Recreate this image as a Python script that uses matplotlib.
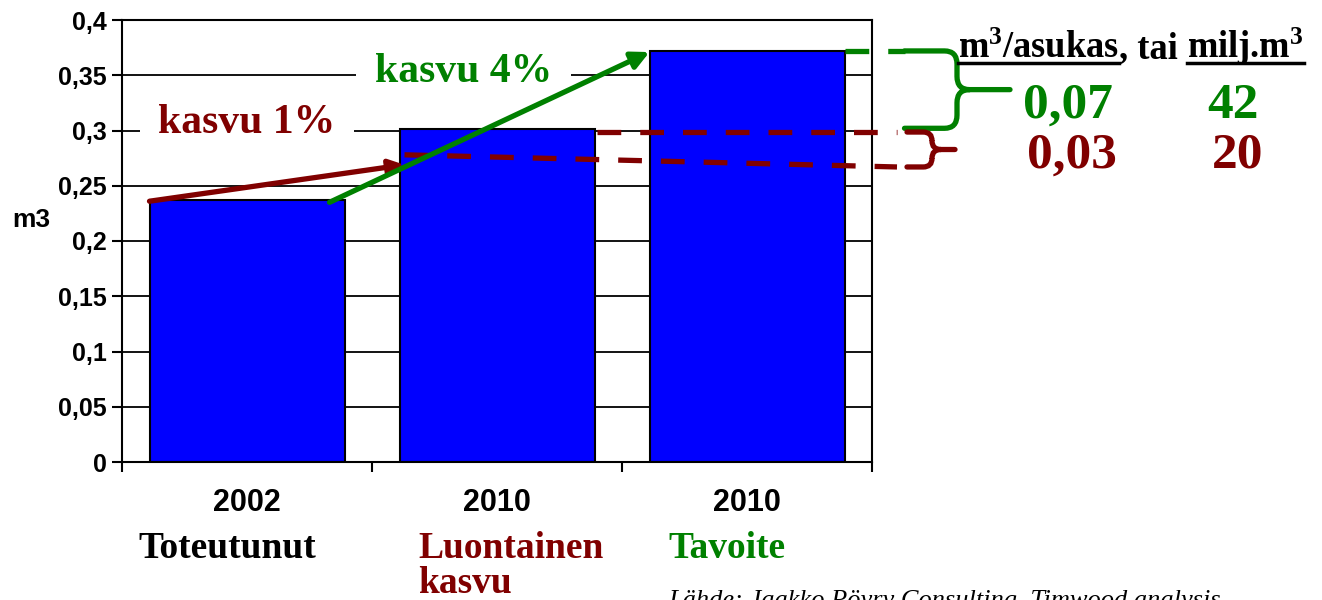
import numpy as np
import matplotlib
matplotlib.use('Agg')
import matplotlib.pyplot as plt
from matplotlib.path import Path
from matplotlib.patches import PathPatch
from matplotlib.lines import Line2D

plt.rcParams['mathtext.fontset'] = 'custom'
plt.rcParams['mathtext.rm'] = 'Liberation Serif:bold'
plt.rcParams['mathtext.bf'] = 'Liberation Serif:bold'
plt.rcParams['mathtext.it'] = 'Liberation Serif:italic:bold'

# data
years = ['2002', '2010', '2010']
subtitles = ['Toteutunut', 'Luontainen\nkasvu', 'Tavoite']
subtitle_colors = ['black', '#800000', '#008000']
values = [0.237, 0.301, 0.372]
yticks = [0, 0.05, 0.1, 0.15, 0.2, 0.25, 0.3, 0.35, 0.4]
ytick_labels = ['0', '0,05', '0,1', '0,15', '0,2', '0,25', '0,3', '0,35', '0,4']

# growth arrows (start, end) and reference levels
arrow_1pct = [(-0.39, 0.236), (0.63, 0.269)]
arrow_4pct = [(0.33, 0.235), (1.61, 0.371)]
level_natural = [(0.63, 0.278), (2.60, 0.267)]
level_natural_top = [(1.40, 0.2986), (2.60, 0.2986)]
level_target = [(2.39, 0.372), (2.63, 0.372)]

per_capita = ['0,07', '0,03']
million_m3 = ['42', '20']

DRED = '#800000'
GREEN = '#008000'

fig = plt.figure(figsize=(13.22, 6.0), dpi=100)
ax = fig.add_axes([122 / 1322, 1 - 462 / 600, 750 / 1322, 442 / 600])

x = np.arange(len(values))
ax.bar(x, values, width=0.78, color='#0000FF', edgecolor='black', linewidth=1.5, zorder=2)
ax.set_xlim(-0.5, 2.5)
ax.set_ylim(0, 0.4)
ax.set_axisbelow(True)
ax.yaxis.grid(True, color='black', linewidth=1.3)
for s in ax.spines.values():
    s.set_linewidth(1.5)

ax.set_yticks(yticks)
ax.set_yticklabels(ytick_labels, fontfamily='Liberation Sans', fontweight='bold', fontsize=18)
ax.tick_params(axis='y', length=7, width=1.5, pad=4)
ax.set_xticks(x)
ax.set_xticklabels(years, fontfamily='Liberation Sans', fontweight='bold', fontsize=22)
ax.set_xticks([-0.5, 0.5, 1.5, 2.5], minor=True)
ax.tick_params(axis='x', which='major', length=0, pad=19)
ax.tick_params(axis='x', which='minor', length=7, width=1.5)

sub_x = [-0.436, 0.684, 1.684]
for i, t in enumerate(subtitles):
    ax.text(sub_x[i], -0.155, t, transform=ax.get_xaxis_transform(), ha='left', va='top',
            fontfamily='Liberation Serif', fontweight='bold', fontsize=27,
            color=subtitle_colors[i], linespacing=1.02)

fig.text(12 / 1322, 1 - 220 / 600, 'm3', ha='left', va='center',
         fontfamily='Liberation Sans', fontweight='bold', fontsize=19)

# growth labels with white background hiding the grid
ax.text(0.0, 0.2977, 'kasvu 1%', ha='center', va='baseline', color=DRED,
        fontfamily='Liberation Serif', fontweight='bold', fontsize=30, zorder=3,
        bbox=dict(boxstyle='square,pad=0.45', facecolor='white', edgecolor='none'))
ax.text(0.866, 0.344, 'kasvu 4%', ha='center', va='baseline', color=GREEN,
        fontfamily='Liberation Serif', fontweight='bold', fontsize=30, zorder=3,
        bbox=dict(boxstyle='square,pad=0.45', facecolor='white', edgecolor='none'))

ax.annotate('', xy=arrow_1pct[1], xytext=arrow_1pct[0], zorder=5,
            arrowprops=dict(arrowstyle='-|>', color=DRED, lw=3.8, mutation_scale=22,
                            shrinkA=0, shrinkB=0))
ax.annotate('', xy=arrow_4pct[1], xytext=arrow_4pct[0], zorder=5,
            arrowprops=dict(arrowstyle='-|>', color=GREEN, lw=3.8, mutation_scale=26,
                            shrinkA=0, shrinkB=0))

for seg, col in [(level_natural, DRED), (level_natural_top, DRED), (level_target, GREEN)]:
    ax.plot([seg[0][0], seg[1][0]], [seg[0][1], seg[1][1]], color=col, lw=3.8,
            dashes=(4.5, 3.6), zorder=4, clip_on=False, solid_capstyle='butt',
            dash_capstyle='butt')


def brace(x0, xb, xtip, ytop, ybot, rx, ry, color):
    ymid = (ytop + ybot) / 2
    verts = [(x0, ytop), (xb - rx, ytop), (xb, ytop), (xb, ytop - ry),
             (xb, ymid + ry), (xb, ymid), (xb + rx, ymid), (xtip, ymid),
             (xb + rx, ymid), (xb, ymid), (xb, ymid - ry),
             (xb, ybot + ry), (xb, ybot), (xb - rx, ybot), (x0, ybot)]
    codes = [Path.MOVETO, Path.LINETO, Path.CURVE3, Path.CURVE3,
             Path.LINETO, Path.CURVE3, Path.CURVE3, Path.LINETO,
             Path.MOVETO, Path.CURVE3, Path.CURVE3,
             Path.LINETO, Path.CURVE3, Path.CURVE3, Path.LINETO]
    ax.add_patch(PathPatch(Path(verts, codes), facecolor='none', edgecolor=color,
                           lw=3.8, clip_on=False, zorder=4, capstyle='round'))


brace(2.63, 2.84, 3.052, 0.372, 0.302, 0.05, 0.012, GREEN)
brace(2.64, 2.74, 2.832, 0.2986, 0.267, 0.035, 0.008, DRED)

# header on the right, with underlines
hdr_kw = dict(fontfamily='Liberation Serif', fontweight='bold', fontsize=26.3,
              va='baseline', ha='left', color='black')
base_y = 1 - 58 / 600
t1 = fig.text(958 / 1322, base_y, 'm$^3$/asukas', **hdr_kw)
fig.canvas.draw()
r = fig.canvas.get_renderer()
bb1 = t1.get_window_extent(r).transformed(fig.transFigure.inverted())
t2 = fig.text(bb1.x1, base_y, ', tai ', **hdr_kw)
bb2 = t2.get_window_extent(r).transformed(fig.transFigure.inverted())
t3 = fig.text(bb2.x1, base_y, 'milj.m$^3$', **hdr_kw)
bb3 = t3.get_window_extent(r).transformed(fig.transFigure.inverted())
ul_y = base_y - 5 / 600
for bb in (bb1, bb3):
    fig.add_artist(Line2D([bb.x0, bb.x1], [ul_y, ul_y], color='black', lw=2.5,
                          transform=fig.transFigure))

val_kw = dict(fontfamily='Liberation Serif', fontweight='bold', fontsize=37,
              va='baseline', ha='center')
fig.text(1068 / 1322, 1 - 118 / 600, per_capita[0], color=GREEN, **val_kw)
fig.text(1233 / 1322, 1 - 118 / 600, million_m3[0], color=GREEN, **val_kw)
fig.text(1072 / 1322, 1 - 168 / 600, per_capita[1], color=DRED, **val_kw)
fig.text(1238 / 1322, 1 - 168 / 600, million_m3[1], color=DRED, **val_kw)

# source note, partly cut by the bottom edge as in the original slide
fig.text(668 / 1322, 1 - 607 / 600, 'Lähde: Jaakko Pöyry Consulting, Timwood analysis',
         ha='left', va='baseline', fontfamily='Liberation Serif', fontstyle='italic',
         fontsize=19)

fig.savefig('out.png', dpi=100)
